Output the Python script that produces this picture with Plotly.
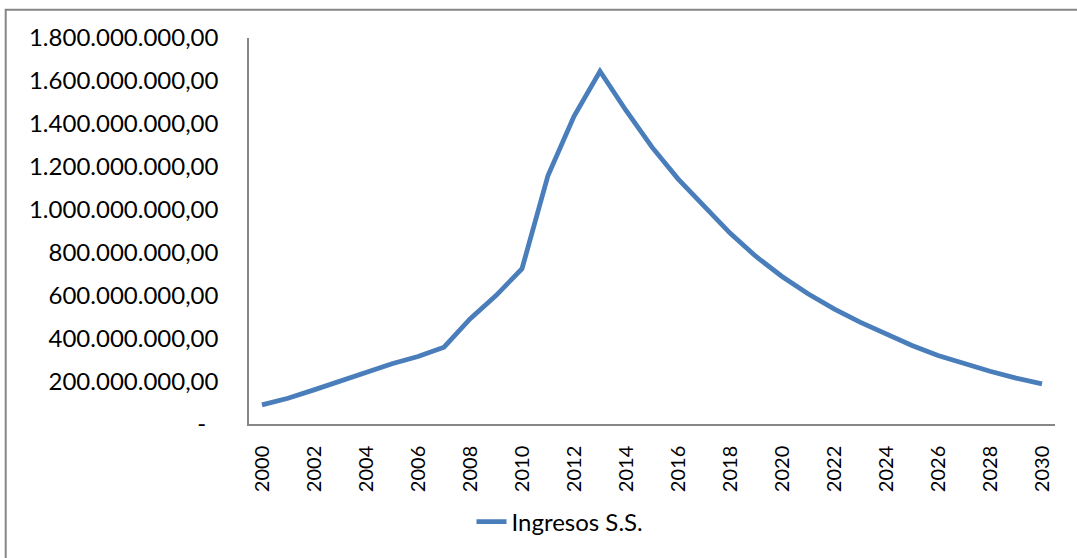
import plotly.graph_objects as go

# Annual revenue series (years 2000-2030)
years = list(range(2000, 2031))
ingresos = [
    89.5e6, 120e6, 159e6, 200e6, 237e6, 281e6, 315e6, 358e6, 490e6, 599e6,
    724e6, 1159e6, 1435e6, 1645e6, 1462e6, 1291e6, 1143e6, 1015e6, 890e6, 781e6,
    688e6, 607e6, 537e6, 475e6, 420e6, 366e6, 319e6, 281e6, 246e6, 214e6, 187e6,
]

# Axis tick values and labels
y_tickvals = [0, 200e6, 400e6, 600e6, 800e6, 1000e6, 1200e6, 1400e6, 1600e6, 1800e6]
y_ticktext = [
    "-\u00a0\u00a0", "200.000.000,00", "400.000.000,00", "600.000.000,00",
    "800.000.000,00", "1.000.000.000,00", "1.200.000.000,00", "1.400.000.000,00",
    "1.600.000.000,00", "1.800.000.000,00",
]
x_tickvals = list(range(2000, 2031, 2))
x_ticktext = [str(v) for v in x_tickvals]

W, H = 1077, 558
ml, mr, mt, mb = 249, 22, 38, 134
pw, ph = W - ml - mr, H - mt - mb


def px_x(x):
    return (x - ml) / pw


def px_y(y):
    return (H - mb - y) / ph


AXIS_GREY = "#868686"
FONT = "Lato, Calibri, sans-serif"

fig = go.Figure()
fig.add_trace(go.Scatter(
    x=years, y=ingresos, mode="lines", name="Ingresos S.S.",
    line=dict(color="#4a7ebb", width=4.8),
))

fig.update_layout(
    width=W, height=H,
    margin=dict(l=ml, r=mr, t=mt, b=mb),
    paper_bgcolor="white", plot_bgcolor="white",
    font=dict(family=FONT, color="#000000"),
    showlegend=True,
    legend=dict(
        orientation="h", x=px_x(560), y=px_y(522),
        xanchor="center", yanchor="middle",
        font=dict(family=FONT, size=24, color="#000000"),
        bgcolor="rgba(0,0,0,0)",
    ),
    xaxis=dict(
        range=[1999.5, 2030.5], tickmode="array",
        tickvals=x_tickvals, ticktext=x_ticktext, tickangle=-90,
        tickfont=dict(family=FONT, size=20, color="#000000"),
        showgrid=False, zeroline=False, showline=True,
        linecolor=AXIS_GREY, linewidth=1.5, ticks="",
        ticklabelstandoff=12, automargin=False, fixedrange=True,
    ),
    yaxis=dict(
        range=[0, 1800e6], tickmode="array",
        tickvals=y_tickvals, ticktext=y_ticktext,
        tickfont=dict(family=FONT, size=24, color="#000000"),
        showgrid=False, zeroline=False, showline=True,
        linecolor=AXIS_GREY, linewidth=1.5, ticks="",
        ticklabelstandoff=24, automargin=False, fixedrange=True,
    ),
    shapes=[dict(
        type="rect", xref="paper", yref="paper",
        x0=px_x(5.7), x1=px_x(1090), y0=px_y(600), y1=px_y(9.8),
        line=dict(color=AXIS_GREY, width=2), fillcolor="rgba(0,0,0,0)",
        layer="above",
    )],
)

fig.write_html("out.html", config={"displayModeBar": False})
